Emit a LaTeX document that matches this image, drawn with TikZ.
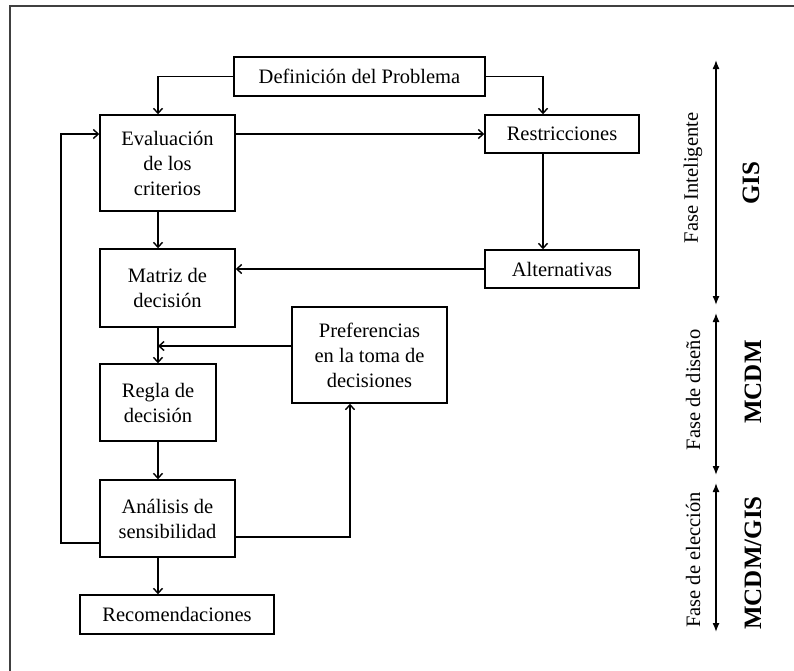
\documentclass[tikz,border=0pt]{standalone}
\usepackage{fontspec}
\setmainfont{Liberation Serif}
\usetikzlibrary{calc,arrows.meta}
\tikzset{caja/.style={draw,line width=1.4pt,inner sep=0pt,align=center,
    font=\fontsize{20.5}{25}\selectfont}}

\begin{document}
\begin{tikzpicture}[x=1pt,y=-1pt,line width=1.4pt,
        >={Straight Barb[length=5pt,width=9pt]},
        fase/.style={rotate=90,font=\fontsize{20.5}{25}\selectfont},
        herr/.style={rotate=90,font=\fontsize{25}{30}\selectfont\bfseries}]
        \useasboundingbox (0,0) rectangle (794,670);
        \draw[line width=2pt,black!75] (10,680) -- (10,6) -- (804,6);

        % cajas
        \node[caja,minimum width=251pt,minimum height=39pt] (def) at (359.5,76.5) {Definición del Problema};
        \node[caja,minimum width=135pt,minimum height=96pt] (eval) at (167.5,163) {Evaluación\\de los\\criterios};
        \node[caja,minimum width=154pt,minimum height=38pt] (restr) at (562,134) {Restricciones};
        \node[caja,minimum width=154pt,minimum height=38pt] (alt) at (562,269) {Alternativas};
        \node[caja,minimum width=135pt,minimum height=78pt] (matriz) at (167.5,288) {Matriz de\\decisión};
        \node[caja,minimum width=116pt,minimum height=77pt] (regla) at (158,402.5) {Regla de\\decisión};
        \node[caja,minimum width=155pt,minimum height=96pt] (pref) at (369.5,355) {Preferencias\\en la toma de\\decisiones};
        \node[caja,minimum width=135pt,minimum height=77pt] (anal) at (167.5,518.5) {Análisis de\\sensibilidad};
        \node[caja,minimum width=194pt,minimum height=39pt] (recom) at (177,614.5) {Recomendaciones};

        \coordinate (spine) at (158,0);
        \coordinate (col) at (543,0);
        \coordinate (pin) at (158,346);
        \coordinate (back) at (350,537);
        \coordinate (loop) at (61,543);

        \path[->]
        (eval.south -| spine) edge (matriz.north -| spine)
        (matriz.south -| spine) edge (regla.north -| spine)
        (regla.south -| spine) edge (anal.north -| spine)
        (anal.south -| spine) edge (recom.north -| spine)
        (eval.east |- restr.west) edge (restr.west)
        (restr.south -| col) edge (alt.north -| col)
        (alt.west) edge (matriz.east |- alt.west)
        (pref.west |- pin) edge (pin);

        \draw[->] (def.west) -| (eval.north -| spine);
        \draw[->] (def.east) -| (restr.north -| col);
        \draw[->] (back -| anal.east) -| (pref.south -| back);
        \draw[->] (loop -| anal.west) -- (loop) |- (eval.west |- restr.west);

        % fases
        \coordinate (f1) at (716,60);
        \coordinate (f2) at (716,305);
        \coordinate (f3) at (716,313);
        \coordinate (f4) at (716,475);
        \coordinate (f5) at (716,483);
        \coordinate (f6) at (716,632);
        \draw[{Latex[length=9pt,width=7pt]}-{Latex[length=9pt,width=7pt]}] (f1) -- (f2);
        \draw[{Latex[length=9pt,width=7pt]}-{Latex[length=9pt,width=7pt]}] (f3) -- (f4);
        \draw[{Latex[length=9pt,width=7pt]}-{Latex[length=9pt,width=7pt]}] (f5) -- (f6);

        \node[fase] (fint) at (693,178) {Fase Inteligente};
        \node[fase] (fdis) at (693,390) {Fase de diseño};
        \node[fase] (fele) at (693,560) {Fase de elección};
        \node[herr] (gis) at (751,183) {GIS};
        \node[herr] (mcdm) at (753,382) {MCDM};
        \node[herr] (mcgis) at (753,563) {MCDM/GIS};
\end{tikzpicture}
\end{document}
